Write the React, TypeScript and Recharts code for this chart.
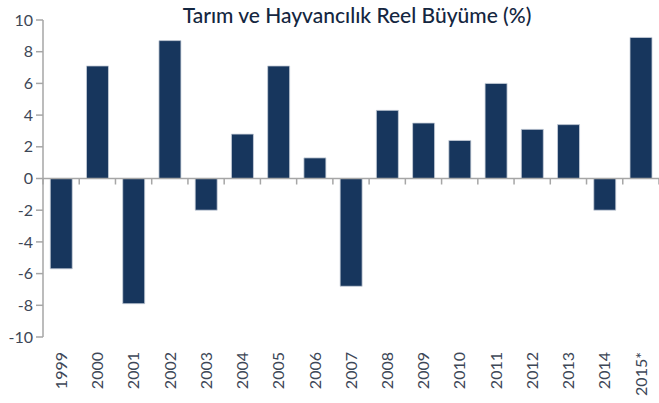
import React from 'react';
import { BarChart, Bar, XAxis, YAxis, ReferenceLine } from 'recharts';

const years = ['1999','2000','2001','2002','2003','2004','2005','2006','2007','2008','2009','2010','2011','2012','2013','2014','2015*'];
const growth = [-5.7, 7.1, -7.9, 8.7, -2.0, 2.8, 7.1, 1.3, -6.8, 4.3, 3.5, 2.4, 6.0, 3.1, 3.4, -2.0, 8.9];
const yTicks = [-10, -8, -6, -4, -2, 0, 2, 4, 6, 8, 10];
const title = 'Tarım ve Hayvancılık Reel Büyüme (%)';

const data = years.map((y, i) => ({ year: y, value: growth[i] }));

const FONT = 'Lato, "Open Sans", sans-serif';
const TEXT = '#3d4757';
const AXIS = '#a6a6a6';

const XTick = (props: any) => {
  const { x, y, payload } = props;
  return (
    <g transform={`translate(${x},${y})`}>
      <text
        transform="rotate(-90)"
        x={-7}
        y={0}
        dy="0.36em"
        textAnchor="end"
        fill={TEXT}
        fontSize={16}
        fontFamily={FONT}
      >
        {payload.value}
      </text>
    </g>
  );
};

const ZeroLine = (props: any) => {
  const { x1, y1, x2, y2 } = props;
  const n = data.length;
  const step = (x2 - x1) / n;
  const ticks = [];
  for (let i = 0; i <= n; i++) {
    const tx = x1 + i * step;
    ticks.push(<line key={i} x1={tx} x2={tx} y1={y1} y2={y1 + 6} stroke={AXIS} strokeWidth={1.5} />);
  }
  return (
    <g>
      <line x1={x1} y1={y1} x2={x2} y2={y2} stroke={AXIS} strokeWidth={1.5} />
      {ticks}
    </g>
  );
};

export default function App() {
  return (
    <div style={{ position: 'absolute', left: 0, top: 0, width: 659, height: 403, background: '#fff' }}>
      <BarChart
        width={659}
        height={403}
        data={data}
        margin={{ top: 20, right: 0, bottom: 0, left: 0 }}
        barCategoryGap="20%"
      >
        <text
          x={357}
          y={18}
          textAnchor="middle"
          dominantBaseline="middle"
          fill="#142640"
          fontSize={21}
          fontFamily={FONT}
          fontWeight={500}
        >
          {title}
        </text>
        <XAxis
          dataKey="year"
          interval={0}
          axisLine={false}
          tickLine={false}
          height={66}
          tick={<XTick />}
        />
        <YAxis
          domain={[-10, 10]}
          ticks={yTicks}
          width={43}
          interval={0}
          axisLine={{ stroke: AXIS, strokeWidth: 1.5 }}
          tickLine={{ stroke: AXIS, strokeWidth: 1.5 }}
          tickSize={7}
          tickMargin={3}
          tick={{ fill: TEXT, fontSize: 16, fontFamily: FONT }}
        />
        <Bar dataKey="value" fill="#17365d" stroke="#c9d0da" strokeWidth={0.8} isAnimationActive={false} />
        <ReferenceLine y={0} shape={<ZeroLine />} />
      </BarChart>
    </div>
  );
}
